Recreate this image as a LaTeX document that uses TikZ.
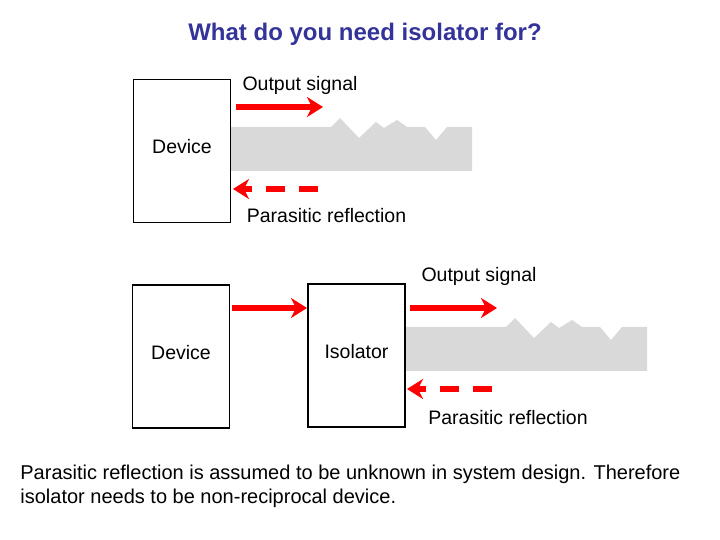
\documentclass[tikz,border=0pt]{standalone}
\usepackage{fontspec}
\setmainfont{Liberation Sans}
\usetikzlibrary{arrows.meta}
\definecolor{titleblue}{RGB}{51,51,153}
\definecolor{bandgray}{RGB}{217,217,217}

\begin{document}
\begin{tikzpicture}[x=0.5bp, y=-0.5bp,
    every node/.style={font=\fontsize{9.75bp}{12bp}\selectfont},
    box/.style={draw, line width=0.55bp, inner sep=0pt, text depth=4.5bp, minimum width=48.5bp, minimum height=71.5bp},
    lbl/.style={anchor=base},
    sig/.style={draw=red, line width=2.75bp, -{Stealth[length=8bp, width=10bp, inset=2.5bp]}},
    refl/.style={sig, dash pattern=on 9.5bp off 7bp}
]
\useasboundingbox (0,0) rectangle (720,540);

% Title
\node[lbl, font=\fontsize{12bp}{14bp}\selectfont\bfseries, text=titleblue] (title) at (365,40.5) {What do you need isolator for?};

% Bands with rough surface (upper: plain device, lower: after isolator)
\foreach \dx/\dy in {0/0,175/200} {
    \fill[bandgray, shift={(\dx,\dy)}] (231,127) -- (331,127) -- (340,118) -- (359,138) -- (376,122)
        -- (384,128) -- (397,120) -- (407,127) -- (425,127) -- (436,140) -- (447,127)
        -- (472,127) -- (472,171) -- (231,171) -- cycle;
}

% Upper case - device alone
\node[box] (dev1) at (182,151) {Device};
\node[lbl] (out1) at (300,91) {Output signal};
\node[lbl] (par1) at (326.5,223) {Parasitic reflection};
\coordinate (o1s) at (236,107);
\coordinate (o1e) at (323,107);
\coordinate (r1s) at (318,189);
\coordinate (r1e) at (233,189);
\draw[sig] (o1s) -- (o1e);
\draw[refl] (r1s) -- (r1e);

% Lower case - device followed by isolator
\node[box] (dev2) at (181,356.5) {Device};
\node[box] (iso) at (356.5,355.5) {Isolator};
\node[lbl] (out2) at (479,282) {Output signal};
\node[lbl] (par2) at (508,425) {Parasitic reflection};
\coordinate (m2s) at (232,308);
\coordinate (m2e) at (307,308);
\coordinate (o2s) at (410,308);
\coordinate (o2e) at (497,308);
\coordinate (r2s) at (492,389);
\coordinate (r2e) at (407,389);
\draw[sig] (m2s) -- (m2e);
\draw[sig] (o2s) -- (o2e);
\draw[refl] (r2s) -- (r2e);

% Note
\node[anchor=north west, align=left, inner sep=0pt, font=\fontsize{10bp}{12bp}\selectfont] (note) at (20,465)
    {Parasitic reflection is assumed to be unknown in system design. Therefore\\
     isolator needs to be non-reciprocal device.};

\end{tikzpicture}
\end{document}
